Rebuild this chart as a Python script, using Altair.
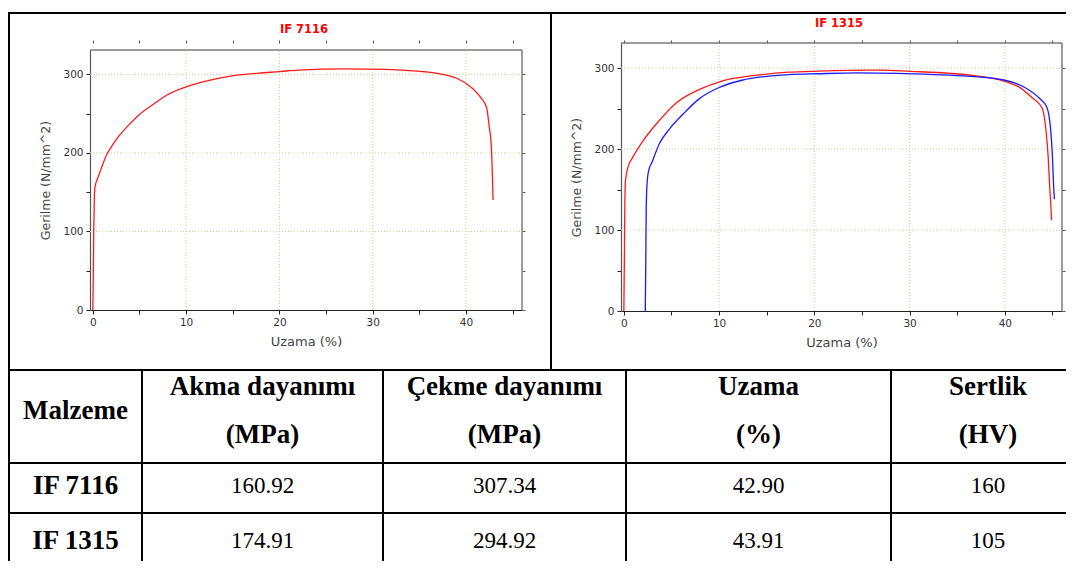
import altair as alt
import pandas as pd

# ---------------- data ----------------
# IF 7116 (left panel, red curve)
if7116_strain = [0.0, 0.05, 0.1, 0.15, 0.2, 0.3, 0.5, 0.9, 1.5, 2.0, 2.7, 3.9, 5.0, 6.5, 8.0,
                 10.0, 12.0, 14.6, 17.8, 20.0, 22.0, 27.0, 31.4, 34.8, 37.5, 39.0, 40.5, 41.6,
                 42.2, 42.5, 42.7, 42.8, 42.9]
if7116_stress = [0, 40, 100, 135, 152, 160, 167, 180, 198, 208, 220, 236, 249, 262, 274,
                 284, 291, 297.5, 301.5, 303.5, 305.5, 307, 306.4, 304, 300, 295, 284, 270,
                 258, 232, 211, 181, 140]

# IF 1315 (right panel) - red curve
if1315_red_strain = [0.0, 0.05, 0.1, 0.17, 0.42, 0.94, 2.0, 3.4, 5.5, 8.0, 10.3, 13.8, 17.3,
                     19.6, 22.0, 26.8, 30.1, 34.3, 37.8, 39.9, 41.7, 42.9, 43.9, 44.3, 44.55,
                     44.7, 44.85, 44.9]
if1315_red_stress = [0, 60, 128, 161, 177, 190, 210, 231, 257, 274, 284, 291, 295,
                     296, 297, 297.5, 296, 293.5, 289, 284, 275, 263, 251, 225, 190,
                     155, 125, 112]
# IF 1315 (right panel) - blue curve
if1315_blue_strain = [2.25, 2.3, 2.35, 2.45, 2.6, 3.0, 3.7, 4.8, 6.2, 7.9, 10.0, 12.4, 15.2,
                      17.3, 20.3, 24.5, 28.7, 32.6, 36.1, 40.0, 42.1, 43.6, 44.4, 44.8, 45.0,
                      45.1, 45.2]
if1315_blue_stress = [0, 60, 128, 160, 173, 185, 206, 225, 243, 262, 276, 285, 290,
                      292, 293, 294, 293.5, 292, 290, 285, 276, 263, 252, 225, 190,
                      160, 138]

panel_titles = ["IF 7116", "IF 1315"]
x_title = "Uzama (%)"
y_title = "Gerilme (N/mm^2)"
x_tick_values = [0, 5, 10, 15, 20, 25, 30, 35, 40, 45]
y_tick_values = [0, 50, 100, 150, 200, 250, 300]
x_grid_values = [10, 20, 30, 40]
y_grid_values = [100, 200, 300]
x_domain = [-0.3, 46.0]
y_domain = [0, 331]

# table content
col_headers = ["Akma dayanımı", "Çekme dayanımı", "Uzama", "Sertlik"]
col_units = ["(MPa)", "(MPa)", "(%)", "(HV)"]
first_header = "Malzeme"
materials = ["IF 7116", "IF 1315"]
akma = ["160.92", "174.91"]
cekme = ["307.34", "294.92"]
uzama = ["42.90", "43.91"]
sertlik = ["160", "105"]

# ---------------- layout (page pixels) ----------------
P1_LEFT, P1_TOP = 90, 43          # origin of the left panel's view
P2_LEFT = 621
col_edges = [9, 142, 383, 626, 891, 1085]
header_line_y = [387, 435]
first_header_y = 411
row_text_y = [486, 541]
RIGHT, BOTTOM = 1066, 561
frame_segments = [  # x1, x2, y1, y2
    (8, RIGHT, 12, 14),
    (8, 10, 12, BOTTOM),
    (550, 552, 12, 370),
    (8, RIGHT, 369, 371),
    (8, RIGHT, 462, 464),
    (8, RIGHT, 512, 514),
    (141, 143, 370, BOTTOM),
    (382, 384, 370, BOTTOM),
    (625, 627, 370, BOTTOM),
    (890, 892, 370, BOTTOM),
]

RED = "#ff1a1a"
BLUE = "#1a1aff"
GRID = "#cfcf9a"
FONT = "DejaVu Sans"
SERIF = "Liberation Serif"


def panel(curves, title, width, height, yrange, title_xy):
    xs = alt.Scale(domain=x_domain, nice=False, zero=False)
    if yrange is None:
        ys = alt.Scale(domain=y_domain, nice=False, zero=False)
    else:
        ys = alt.Scale(domain=y_domain, nice=False, zero=False, range=yrange)
    xa = alt.Axis(values=x_tick_values, labelExpr="datum.value % 10 === 0 ? datum.label : ''",
                  title=x_title, grid=False, domainColor="#222", tickColor="#222",
                  tickSize=4, labelPadding=3, titlePadding=8)
    ya = alt.Axis(values=y_tick_values, labelExpr="datum.value % 100 === 0 ? datum.label : ''",
                  title=y_title, grid=False, domainColor="#555", tickColor="#222",
                  tickSize=4, labelPadding=3, titlePadding=10)
    xa_top = alt.Axis(orient="top", values=x_tick_values, labels=False, title=None, grid=False,
                      domain=False, tickColor="#555", tickSize=3)
    ya_right = alt.Axis(orient="right", values=y_tick_values, labels=False, title=None, grid=False,
                        domain=False, tickColor="#555", tickSize=3)

    gx = alt.Chart(pd.DataFrame({"g": x_grid_values, "a": y_domain[0], "b": y_domain[1]})).mark_rule(
        color=GRID, strokeDash=[1, 2], strokeWidth=1).encode(
        x=alt.X("g:Q", scale=xs, axis=None), y=alt.Y("a:Q", scale=ys, axis=None), y2="b:Q")
    gy = alt.Chart(pd.DataFrame({"g": y_grid_values, "a": x_domain[0], "b": x_domain[1]})).mark_rule(
        color=GRID, strokeDash=[1, 2], strokeWidth=1).encode(
        y=alt.Y("g:Q", scale=ys, axis=None), x=alt.X("a:Q", scale=xs, axis=None), x2="b:Q")
    border = alt.Chart(pd.DataFrame({
        "x": [x_domain[0], x_domain[1]], "x2": [x_domain[1], x_domain[1]],
        "y": [y_domain[1], y_domain[0]], "y2": [y_domain[1], y_domain[1]]})).mark_rule(
        color="#7a7a7a", strokeWidth=1.5).encode(
        x=alt.X("x:Q", scale=xs, axis=xa_top), x2="x2:Q",
        y=alt.Y("y:Q", scale=ys, axis=ya_right), y2="y2:Q")

    layers = [gx, gy, border]
    for k, (sx, sy, col) in enumerate(curves):
        df = pd.DataFrame({"strain": sx, "stress": sy, "i": range(len(sx))})
        line = alt.Chart(df).mark_line(color=col, strokeWidth=1.3, interpolate="monotone").encode(
            x=alt.X("strain:Q", scale=xs, axis=xa if k == 0 else None),
            y=alt.Y("stress:Q", scale=ys, axis=ya if k == 0 else None),
            order="i:Q")
        layers.append(line)

    ttl = alt.Chart(pd.DataFrame({"t": [title]})).mark_text(
        font=FONT, fontSize=11.5, fontWeight="bold", color="#ff0000", baseline="middle", align="center"
    ).encode(text="t:N", x=alt.value(title_xy[0]), y=alt.value(title_xy[1]))
    layers.append(ttl)
    return layers, width, height


# ---- left panel (also carries the figure frame and the table) ----
l1, w1, h1 = panel([(if7116_strain, if7116_stress, RED)], panel_titles[0], 432, 267,
                   [267, 7], (214, -13))

frame_df = pd.DataFrame({
    "x": [s[0] - P1_LEFT for s in frame_segments],
    "x2": [s[1] - P1_LEFT for s in frame_segments],
    "y": [s[2] - P1_TOP for s in frame_segments],
    "y2": [s[3] - P1_TOP for s in frame_segments],
})
frame = alt.Chart(frame_df).mark_rect(color="black").encode(
    x=alt.X("x:Q", scale=None), x2="x2:Q", y=alt.Y("y:Q", scale=None), y2="y2:Q")

centers = [(col_edges[i] + col_edges[i + 1]) / 2 for i in range(len(col_edges) - 1)]

bold_labels, bold_x, bold_y = [], [], []
bold_labels.append(first_header); bold_x.append(centers[0]); bold_y.append(first_header_y)
for j, (h, u) in enumerate(zip(col_headers, col_units)):
    bold_labels += [h, u]
    bold_x += [centers[j + 1], centers[j + 1]]
    bold_y += header_line_y
for r, m in enumerate(materials):
    bold_labels.append(m); bold_x.append(centers[0]); bold_y.append(row_text_y[r])

reg_labels, reg_x, reg_y = [], [], []
for c, vals in enumerate([akma, cekme, uzama, sertlik]):
    for r, v in enumerate(vals):
        reg_labels.append(v); reg_x.append(centers[c + 1]); reg_y.append(row_text_y[r])

bold_df = pd.DataFrame({"t": bold_labels, "x": [v - P1_LEFT for v in bold_x],
                        "y": [v - P1_TOP for v in bold_y]})
reg_df = pd.DataFrame({"t": reg_labels, "x": [v - P1_LEFT for v in reg_x],
                       "y": [v - P1_TOP for v in reg_y]})
bold_text = alt.Chart(bold_df).mark_text(font=SERIF, fontSize=27, fontWeight="bold", color="black",
                                         align="center", baseline="middle").encode(
    text="t:N", x=alt.X("x:Q", scale=None), y=alt.Y("y:Q", scale=None))
reg_text = alt.Chart(reg_df).mark_text(font=SERIF, fontSize=23, color="black",
                                       align="center", baseline="middle").encode(
    text="t:N", x=alt.X("x:Q", scale=None), y=alt.Y("y:Q", scale=None))

c1 = alt.layer(*l1, frame, bold_text, reg_text).resolve_axis(
    x="independent", y="independent").properties(width=w1, height=h1)

# ---- right panel ----
l2, w2, h2 = panel([(if1315_red_strain, if1315_red_stress, RED),
                    (if1315_blue_strain, if1315_blue_stress, BLUE)],
                   panel_titles[1], 441, 268, None, (218, -19))
c2 = alt.layer(*l2).resolve_axis(x="independent", y="independent").properties(width=w2, height=h2)

chart = alt.HConcatChart(hconcat=[c1, c2], spacing=P2_LEFT - P1_LEFT - 432, bounds="flush").properties(
    padding={"left": 0, "top": 4, "right": 0, "bottom": 0}
).configure_view(stroke=None).configure_axis(
    labelFont=FONT, labelFontSize=10.5, labelColor="#333",
    titleFont=FONT, titleFontSize=12.5, titleFontWeight="normal", titleColor="#444",
    domainWidth=1.2, tickWidth=1
).configure_axisX(titleFontSize=13)

chart.save("out.html", embed_options={"renderer": "svg", "actions": False})
